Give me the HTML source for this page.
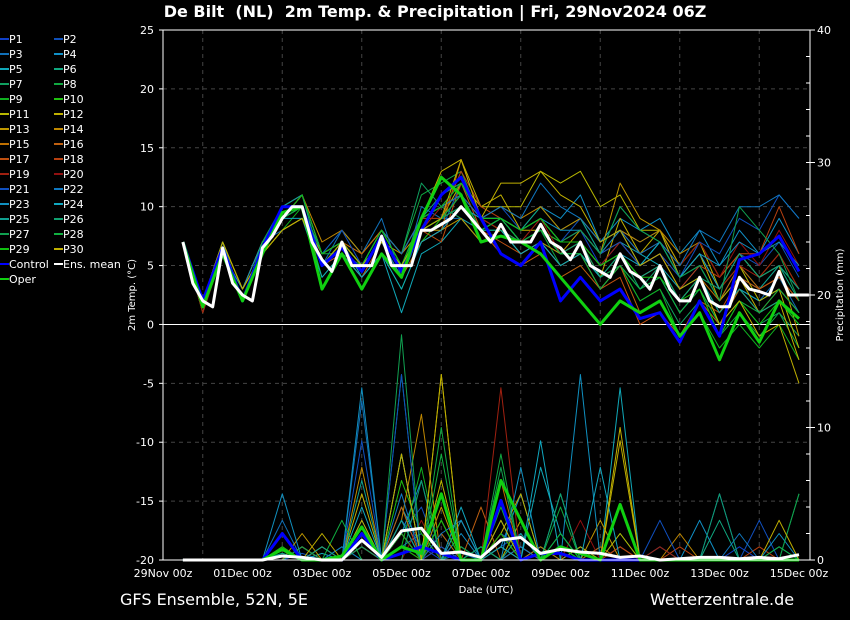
<!DOCTYPE html>
<html><head><meta charset="utf-8">
<style>
html,body{margin:0;padding:0;background:#000;}
svg{display:block;font-family:"DejaVu Sans","Liberation Sans",sans-serif;}
</style></head>
<body>
<svg id="chart" width="850" height="620" viewBox="0 0 850 620">
<rect x="0" y="0" width="850" height="620" fill="#000"/>
<text x="435" y="17" fill="#fff" font-size="16" font-weight="bold" text-anchor="middle">De Bilt&#160; (NL)&#160; 2m Temp. &amp; Precipitation | Fri, 29Nov2024 06Z</text>
<text x="120" y="605" fill="#fff" font-size="16">GFS Ensemble, 52N, 5E</text>
<text x="650" y="605" fill="#fff" font-size="16">Wetterzentrale.de</text>
<text x="486" y="593" fill="#fff" font-size="10" text-anchor="middle">Date (UTC)</text>
<text transform="translate(135,295) rotate(-90)" fill="#fff" font-size="10" text-anchor="middle">2m Temp. (°C)</text>
<text transform="translate(843,295) rotate(-90)" fill="#fff" font-size="10" text-anchor="middle">Precipitation (mm)</text>
<g id="grid"></g>
<g id="series"></g>
<g id="axes"></g>
<g id="legend"></g>
</svg>
<script>
const tempTicks=[25,20,15,10,5,0,-5,-10,-15,-20];
const precipTicks=[0,10,20,30,40];
const dateLabels=["29Nov 00z","01Dec 00z","03Dec 00z","05Dec 00z","07Dec 00z","09Dec 00z","11Dec 00z","13Dec 00z","15Dec 00z"];
const meanTemp=[7,3.5,2,1.5,6.5,3.5,2.5,2,6.5,7.5,9,10,10,7,5.5,4.5,7,5,5,5,7.5,5,5,5,8,8,8.5,9,10,9,8,7,8.5,7,7,7,8.5,7,6.5,5.5,7,5,4.5,4,6,4.5,4,3,5,3,2,2,4,2,1.5,1.5,4,3,2.8,2.5,4.5,2.5,2.5,2.5];
const controlTemp=[7,2,6.5,2,6.5,10,10,5,6.5,4.5,7.5,4.5,8,11,12.5,9,6,5,7,2,4,2,3,0.5,1,-1.5,2,-1,5.5,6,7.5,4.5];
const operTemp=[7,1.5,6,2,6,9.5,10,3,6,3,6,4,9,12.5,11,7,7.5,7,6,4,2,0,2,1,2,-1,1,-3,1,-1.5,2,0.5];
const meanPrecip=[0,0,0,0,0,0.3,0.2,0,0,1.5,0.2,2.2,2.4,0.5,0.6,0.2,1.5,1.7,0.5,0.8,0.6,0.5,0.2,0.3,0,0.1,0.2,0.2,0.1,0.2,0.1,0.4];
const controlPrecip=[0,0,0,0,0,2,0,0,0,2,0,0.5,1,0.5,0,0,4.5,0,0.5,0.5,0,0,0,0,0,0,0,0,0,0,0,0];
const operPrecip=[0,0,0,0,0,0.8,0,0,0.3,2.5,0,1,0.5,5,0,0,6,3,0,1,0.5,0,4.2,0,0,0,0,0,0,0,0,0];
const memberTemp=[
[7,2,6,2,6,9,11,6,7,5,8,5,9,10,11,8,9,8,9,7,8,5,7,5,6,3,5,2,5,3,5,3],
[7,1,6,2,7,10,10,5,6,4,7,4,7,8,12,9,10,8,9,7,9,6,8,7,8,4,6,3,6,5,7,4],
[7,2,7,3,7,8,9,5,8,6,9,4,10,9,9,7,8,6,7,6,6,4,5,3,4,1,3,0,3,2,4,1],
[7,2,7,2,6,9,11,6,7,5,7,5,8,9,10,9,9,8,10,9,11,7,9,8,9,6,8,5,8,6,9,6],
[7,2,6,2,6,9,10,5,7,4,6,1,6,7,9,8,9,7,8,7,8,6,7,6,5,3,4,1,3,2,3,1],
[7,2,7,3,7,9,11,6,8,6,8,5,9,10,11,8,9,8,10,8,9,6,10,8,7,4,5,2,4,3,5,2],
[7,2,6,2,6,9,10,5,7,5,8,6,12,10,9,7,8,6,7,5,6,3,5,2,3,0,2,-1,2,0,1,-1],
[7,2,6,3,7,10,11,6,6,5,8,6,11,12,13,9,8,7,8,5,6,4,5,3,4,1,3,-1,1,-1,1,-2],
[7,2,7,2,6,8,10,6,7,5,7,4,8,9,10,8,9,7,8,6,6,3,5,2,3,-1,1,-2,0,-2,0,-3],
[7,2,6,2,7,9,10,4,6,4,6,3,7,9,11,8,9,7,8,7,7,5,6,4,5,2,4,0,3,1,2,0],
[7,1,7,3,6,8,9,6,7,5,7,5,8,9,12,10,10,10,13,12,13,10,11,8,8,5,7,3,5,2,3,-2],
[7,2,6,2,6,9,10,5,7,6,8,6,9,13,14,10,11,8,8,6,7,4,9,6,8,4,6,2,4,1,2,-3],
[7,2,6,2,6,8,9,5,7,5,7,6,8,8,9,7,8,6,7,6,8,6,12,9,8,5,7,4,6,4,5,-1],
[7,2,7,3,7,9,11,7,8,6,8,5,9,10,11,9,10,9,10,8,9,7,8,7,8,6,7,4,6,4,6,3],
[7,2,6,2,6,9,10,6,7,5,7,4,7,8,14,9,8,7,8,6,7,5,6,4,5,2,4,2,5,3,4,2],
[7,2,6,2,6,10,11,6,7,6,8,5,8,9,11,8,6,5,6,4,5,3,5,1,2,-1,2,0,3,1,3,1],
[7,2,6,3,7,9,10,5,6,4,7,5,8,7,12,8,7,6,7,5,6,3,4,0,1,-1,2,1,4,3,4,2],
[7,2,6,2,6,9,11,6,7,5,8,6,9,9,13,10,9,8,9,7,8,6,7,5,6,3,5,4,6,6,10,6],
[7,1,6,2,6,9,10,5,7,5,7,5,8,10,12,9,8,7,9,6,7,5,7,5,6,4,6,3,5,4,6,3],
[7,2,7,2,6,9,10,6,7,5,7,4,8,9,11,9,9,8,9,7,8,6,8,6,7,5,7,4,7,5,8,5],
[7,2,6,2,6,10,11,6,8,5,8,5,9,10,12,9,9,8,9,7,8,6,7,5,6,4,7,6,9,8,11,9],
[7,2,6,2,7,9,10,6,7,5,8,6,9,10,11,9,10,9,12,10,9,7,8,6,7,5,8,7,10,10,11,9],
[7,2,6,3,7,9,10,5,7,5,7,4,8,9,10,9,9,8,9,8,8,6,8,5,7,4,6,5,7,6,7,5],
[7,2,6,2,6,9,9,4,6,4,6,3,7,8,10,8,8,6,7,5,6,4,6,5,7,4,6,3,6,4,5,3],
[7,2,7,2,6,10,11,5,7,5,8,5,9,11,12,9,9,7,8,6,7,5,6,4,5,2,4,1,3,1,2,0],
[7,2,6,2,6,9,10,6,7,5,7,5,8,9,11,8,8,7,8,6,7,4,6,3,5,2,4,3,6,4,5,3],
[7,2,6,2,6,9,10,5,7,5,7,5,8,9,10,8,9,8,9,7,8,6,10,8,7,4,5,2,10,8,6,2],
[7,2,6,2,7,9,10,5,7,5,7,5,8,9,11,8,9,7,8,6,6,3,5,3,4,1,3,0,2,1,3,1],
[7,2,6,2,6,9,11,6,7,5,8,5,9,10,12,9,9,8,9,7,7,5,6,4,4,2,3,-1,2,0,2,0],
[7,2,7,3,6,8,9,5,7,5,7,5,8,9,14,9,12,12,13,11,10,7,8,5,6,3,4,0,2,-1,0,-5]];
const memberPrecip=[
[0,0,0,0,0,1,0,0,0,2,0,3,1,0,1,0,2,1,0,0,1,0,0,0,0,0,0,0,1,0,0,0],
[0,0,0,0,0,0,0.5,0,0,1,0,2,4,0,1,0,1,2,0,0,0,0,1,0,0,0,0,0,0,0,0,0],
[0,0,0,0,0,3,0,0,0,12,0,1,2,0,0.5,0,2,0,1,0,0,0,0,0,1,0,0,0,0,0,0,0],
[0,0,0,0,0,0,1,0,0,3,0,2,6,0,2,0,1,5,0,1,0,0,0,0,0,0,3,0,0,0,1,0],
[0,0,0,0,0,0,0,0.5,0,2,0,4,1,5,0,0,3,0,7,2,0,0,13,0,0,0,0,0,0,0,0,0],
[0,0,0,0,0,1,0,0,0,1,0,2,0,3,0,1,0,2,0,5,0,1,0,0,0,0,0,3,0,0,0,0],
[0,0,0,0,0,0,0,0,1,0,0,14,0,2,0,0,1,0,0,1,0,0,0,0,0,0,0,0,0,0,0,0],
[0,0,0,0,0,0.5,0,0,0,1,0,3,0,10,0,0,8,0,0,4,0,0,2,0,0,0,0,0,0,0,0,5],
[0,0,0,0,0,0,0,0,0,2,0,1,7,0,0,0,1,0,0,2,0,0,0,0,0,0,0,0,0,0,0,0],
[0,0,0,0,0,0,0,1,0,2,0,6,2,0,1,0,1,0,0,0,0,1,0,0,0,0,0,0,0,0,0,0],
[0,0,0,0,0,0,1,0,0,1,0,2,0,6,0,1,0,3,0,0,1,0,2,0,0,0,0,0,0,0,0,0],
[0,0,0,0,0,0,0,0,0,5,0,2,0,14,0,0,2,5,0,0,0,0,9,0,0,0,0,0,0,0,0,0],
[0,0,0,0,0,0,2,0,0,1,0,8,0,4,0,0,0,1,0,0,0,3,0,0,0,0,0,0,0,0,0,0],
[0,0,0,0,0,0,0,0,0,7,0,3,11,0,3,0,2,0,1,0,0,0,0,0,0,2,0,0,0,0,0,0],
[0,0,0,0,0,1,0,1,0,0,0,1,0,3,0,0,6,0,0,0,0,0,1,0,0,0,0,0,0,0,0,0],
[0,0,0,0,0,0,0,0,0,2,0,4,0,2,0,4,0,1,0,0,0,0,0,0,0,0,0,0,0,0,0,0],
[0,0,0,0,0,0,1,0,0,1,0,2,0,1,0,0,2,0,0,0,0,1,0,0,0,0,0,0,0,0,0,0],
[0,0,0,0,0,0,0,0,0,0,0,3,0,1,0,0,2,0,0,0,0,0,1,0,0,1,0,0,0,1,0,0],
[0,0,0,0,0,0,0,0,0,1,0,2,0,0,0,0,13,0,0,0,0,0,0,0,1,0,0,0,0,0,0,0],
[0,0,0,0,0,0,0,0,0,2,0,0,3,0,0,0,1,0,0,0,3,0,0,0,0,0,0,0,0,0,0,0],
[0,0,0,0,0,0,0,0,0,9,0,14,0,1,0,0,0,2,0,0,0,0,0,0,3,0,0,5,0,3,0,0],
[0,0,0,0,0,0,0,0,1,0,0,5,0,2,3,0,0,1,0,0,0,0,0,0,0,0,0,0,2,0,0,0],
[0,0,0,0,0,5,0,0,0,13,0,3,0,0,3,0,0,7,0,0,14,0,0,0,0,0,0,0,0,0,2,0],
[0,0,0,0,0,0,0,0,0,4,0,8,0,0,4,0,1,0,9,0,0,7,0,0,0,0,0,0,0,0,0,0],
[0,0,0,0,0,0.5,0,1,0,6,0,3,0,5,0,1,0,2,0,2,0,0,0,0,0,0,0,0,0,0,0,0],
[0,0,0,0,0,2,0,0,0,1,0,0,6,0,0,1,0,0,0,5,0,0,0,0,0,0,0,5,0,0,0,0],
[0,0,0,0,0,0,1,0,0,0,0,17,0,0,1,0,7,0,0,0,0,0,0,0,0,0,0,0,0,0,0,5],
[0,0,0,0,0,0,0,0,3,0,0,2,0,8,0,0,4,0,0,2,0,0,0,0,0,0,0,0,0,0,1,0],
[0,0,0,0,0,1,0,0,0,2,0,1,0,3,0,0,2,0,0,1,0,0,0,0,0,0,0,0,0,0,0,0],
[0,0,0,0,0,0,0,2,0,3,0,8,0,14,0,0,3,0,0,0,0,0,10,0,0,0,0,0,0,0,3,0]];
const memberColors=["#1040c8","#1050b8","#1070b8","#1090c8","#10a8b8","#10a880","#10a060","#10a840","#10b020","#20c010","#b8b800","#c0b000","#c09800","#c08800","#c07000","#c06010","#c05010","#b84010","#a02010","#901010","#1050c0","#1078c0","#1090c0","#10a8c0","#10a090","#10a070","#10a050","#10b040","#10c010","#c0b000"];

const X0=163, DAY=39.75, Y0=30, Y1=560, X1=810;
function xT(t){return X0+t*DAY;}
function yTemp(v){return Y0+(25-v)*(Y1-Y0)/45;}
function yPrec(v){return Y1-v*(Y1-Y0)/40;}
const NS="http://www.w3.org/2000/svg";
function mk(tag,parent,attrs){const e=document.createElementNS(NS,tag);for(const k in attrs)e.setAttribute(k,attrs[k]);parent.appendChild(e);return e;}
const grid=document.getElementById('grid'),series=document.getElementById('series'),axes=document.getElementById('axes'),legend=document.getElementById('legend');

tempTicks.forEach(v=>{
  const y=yTemp(v);
  if(v!==0&&v!==25&&v!==-20){const g=mk('line',grid,{x1:X0,x2:X1,y1:y,y2:y,stroke:'#444','stroke-dasharray':'4,4','stroke-width':1});
  
  }
  const t=mk('text',axes,{x:X0-9,y:y+4,fill:'#fff','font-size':11,'text-anchor':'end'});t.textContent=v;
  
  
  mk('line',axes,{x1:X0-4,x2:X0,y1:y,y2:y,stroke:'#fff'});
});
for(let d=1;d<16;d+=2){
  const x=xT(d);
  const g=mk('line',grid,{x1:x,x2:x,y1:Y0,y2:Y1,stroke:'#444','stroke-dasharray':'4,4','stroke-width':1});
  
  
}
dateLabels.forEach((s,i)=>{
  const x=xT(i*2);
  const t=mk('text',axes,{x:x,y:577,fill:'#fff','font-size':11,'text-anchor':'middle'});t.textContent=s;
  
  
});
precipTicks.forEach(v=>{
  const y=yPrec(v);
  const t=mk('text',axes,{x:X1+7,y:y+4,fill:'#fff','font-size':11});t.textContent=v;
  
  
  mk('line',axes,{x1:X1,x2:X1+5,y1:y,y2:y,stroke:'#fff'});
});
for(let m=2;m<40;m+=2){const y=yPrec(m);mk('line',axes,{x1:X1-4,x2:X1,y1:y,y2:y,stroke:'#fff'});}
const frame=mk('rect',axes,{x:X0,y:Y0,width:X1-X0,height:Y1-Y0,fill:'none',stroke:'#fff','stroke-width':1});


const zl=mk('line',grid,{x1:X0,x2:X1,y1:yTemp(0),y2:yTemp(0),stroke:'#fff','stroke-width':1});



function poly(vals,step,fy,color,w,name){
  const pts=vals.map((v,i)=>xT(0.5+i*step).toFixed(1)+','+fy(v).toFixed(1)).join(' ');
  const p=mk('polyline',series,{points:pts,fill:'none',stroke:color,'stroke-width':w,'stroke-linejoin':'round'});
  
  
}
memberPrecip.forEach((arr,i)=>poly(arr,0.5,yPrec,memberColors[i],1,'precip-line-p'+(i+1)));
memberTemp.forEach((arr,i)=>poly(arr,0.5,yTemp,memberColors[i],1,'temp-line-p'+(i+1)));
poly(controlPrecip,0.5,yPrec,'#0000ff',3,'precip-line-control');
poly(operPrecip,0.5,yPrec,'#10d010',3,'precip-line-oper');
poly(meanPrecip,0.5,yPrec,'#ffffff',3,'precip-line-ens-mean');
poly(controlTemp,0.5,yTemp,'#0000ff',3,'temp-line-control');
poly(operTemp,0.5,yTemp,'#10d010',3,'temp-line-oper');
poly(meanTemp,0.25,yTemp,'#ffffff',3,'temp-line-ens-mean');

const legItems=[];
for(let i=0;i<30;i++)legItems.push(['P'+(i+1),memberColors[i],'legend-entry-p'+(i+1)]);
legItems.push(['Control','#0000ff','legend-entry-control']);
legItems.push(['Ens. mean','#ffffff','legend-entry-ens-mean']);
legItems.push(['Oper','#10d010','legend-entry-oper']);
legItems.forEach((it,i)=>{
  const col=i%2,row=Math.floor(i/2);
  const x=col?54:0,y=39+row*15;
  const g=mk('g',legend,{});
  
  
  mk('line',g,{x1:x,x2:x+9,y1:y,y2:y,stroke:it[1],'stroke-width':2});
  const t=mk('text',g,{x:x+9,y:y+4,fill:'#fff','font-size':11});t.textContent=it[0];
});
</script>
</body></html>
